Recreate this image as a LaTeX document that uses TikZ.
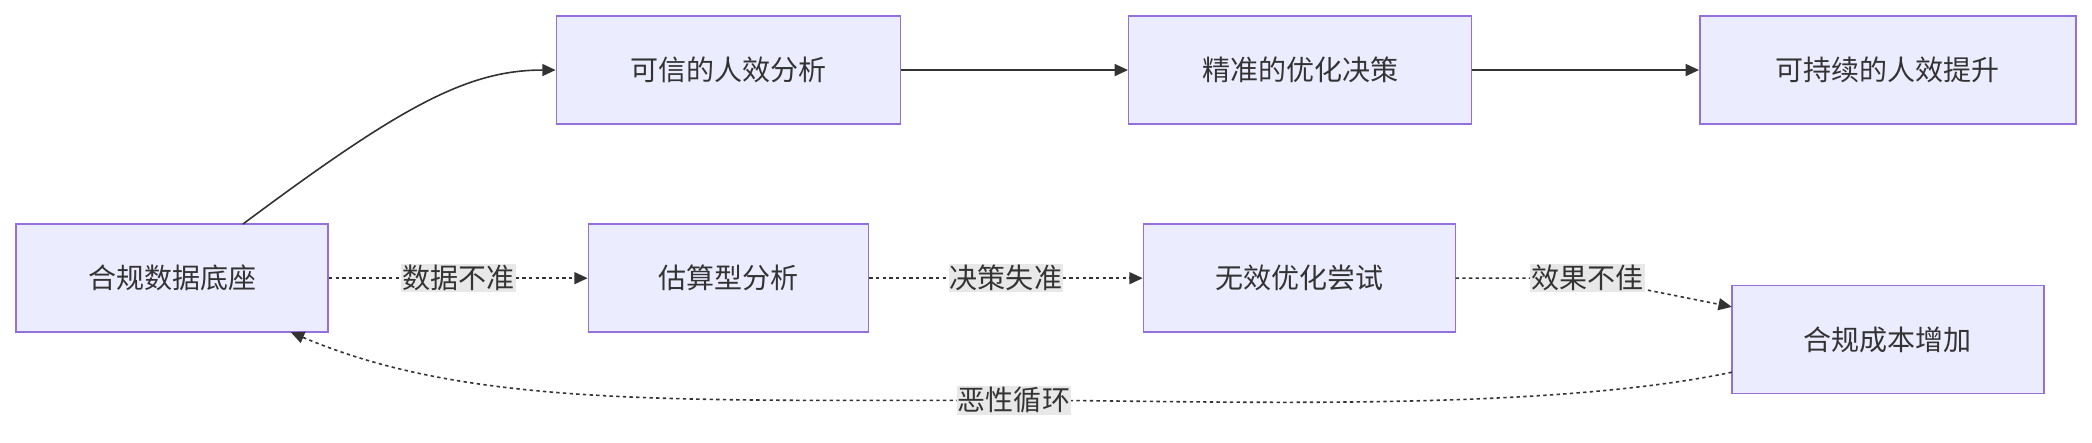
\documentclass[tikz,border=0pt]{standalone}
\usepackage{fontspec}
\setmainfont{Noto Sans CJK SC}
\usetikzlibrary{arrows.meta}
\definecolor{nfill}{HTML}{ECECFF}
\definecolor{nline}{HTML}{9370DB}
\definecolor{lbg}{HTML}{E8E8E8}
\definecolor{ink}{HTML}{333333}
\begin{document}
\begin{tikzpicture}[x=1pt,y=-1pt,
  box/.style={draw=nline,fill=nfill,line width=1.1pt,minimum height=81pt,font=\fontsize{21}{26}\selectfont,text=ink,inner sep=0},
  arr/.style={draw=ink,line width=1.2pt,-{Triangle[length=10pt,width=9pt]}},
  dsh/.style={arr,dash pattern=on 2.5pt off 2.5pt},
  lbl/.style={fill=lbg,font=\fontsize{21}{26}\selectfont,text=ink,inner sep=1pt}]
\useasboundingbox (0,0) rectangle (1568,331.3);
\node[box,minimum width=258pt] (a) at (546,52.5) {可信的人效分析};
\node[box,minimum width=257pt] (b) at (974.5,52.5) {精准的优化决策};
\node[box,minimum width=282pt] (c) at (1415,52.5) {可持续的人效提升};
\node[box,minimum width=234pt] (d) at (129,208.5) {合规数据底座};
\node[box,minimum width=210pt] (e) at (546,208.5) {估算型分析};
\node[box,minimum width=234pt] (f) at (974,208.5) {无效优化尝试};
\node[box,minimum width=234pt] (g) at (1415,254.5) {合规成本增加};
\coordinate (dtop) at (182,168);
\draw[arr] (dtop) .. controls (300,80) and (350,52.5) .. (a.west);
\draw[arr] (a) -- (b);
\draw[arr] (b) -- (c);
\draw[dsh] (d) -- node[lbl]{数据不准} (e);
\draw[dsh] (e) -- node[lbl]{决策失准} (f);
\coordinate (fo) at (1091,208.5);
\coordinate (gi) at (1298,230);
\draw[dsh] (fo) -- (1190,208.5) node[lbl]{效果不佳} -- (gi);
\coordinate (go) at (1298,279);
\coordinate (din) at (218,249);
\draw[dsh] (go) .. controls (1150,310) and (900,300) .. (760,300) node[lbl]{恶性循环} .. controls (500,300) and (350,305) .. (din);
\end{tikzpicture}
\end{document}
